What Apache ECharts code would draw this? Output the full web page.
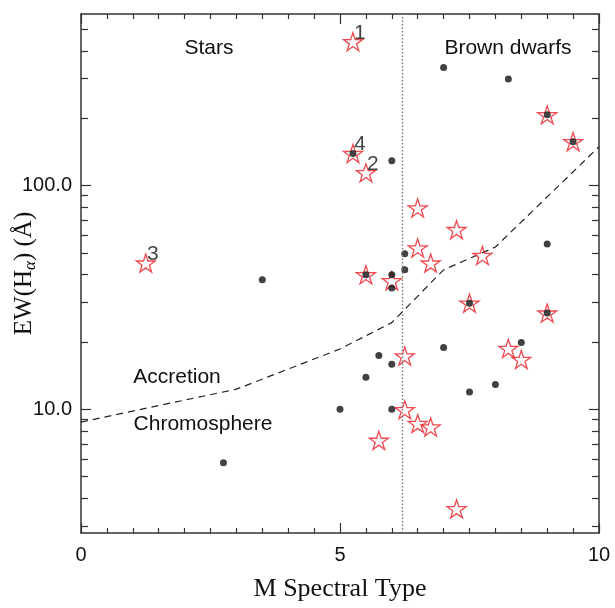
<!DOCTYPE html>
<html><head><meta charset="utf-8">
<script src="https://cdn.jsdelivr.net/npm/echarts@6/dist/echarts.min.js"></script>
<style>html,body{margin:0;padding:0;background:#fff}#c{width:615px;height:608px}</style>
</head><body><div id="c"></div>
<script>
// ---- data ----
const xTickLabels = [0, 5, 10];
const yMajorTicks = [10, 100];
const yMinorTicks = [3,4,5,6,7,8,9,20,30,40,50,60,70,80,90,200,300,400,500];
const starX = [5.25, 5.25, 5.5, 1.25, 9.0, 9.5, 6.5, 7.25, 6.5, 6.75, 7.75, 5.5, 6.0, 7.5, 9.0, 8.25, 8.5, 6.25, 6.25, 6.5, 6.75, 5.75, 7.25];
const starY = [439, 139, 114, 45.0, 207, 157, 79.4, 63.5, 52.6, 45.0, 48.7, 39.9, 37.5, 29.8, 26.9, 18.7, 16.7, 17.3, 9.95, 8.63, 8.33, 7.26, 3.59];
const starLabels = ['1', '4', '2', '3', '', '', '', '', '', '', '', '', '', '', '', '', '', '', '', '', '', '', ''];
const dotX = [5.25, 3.5, 7.0, 8.25, 9.0, 9.5, 6.0, 9.0, 6.25, 6.25, 5.5, 6.0, 6.0, 7.5, 9.0, 7.0, 8.5, 5.75, 6.0, 5.5, 8.0, 7.5, 5.0, 6.0, 2.75];
const dotY = [139, 37.9, 337, 299, 207, 157, 129, 54.8, 49.6, 42.0, 39.9, 39.9, 34.8, 29.8, 26.9, 18.9, 19.9, 17.4, 15.9, 13.9, 12.9, 11.96, 10.0, 10.0, 5.77];
const boundaryX = [0, 3, 5, 6, 7, 8, 10];
const boundaryY = [8.77, 12.3, 18.6, 24.4, 42.0, 53.1, 149];
const divideX = 6.2;
const regionTexts = ['Stars', 'Brown dwarfs', 'Accretion', 'Chromosphere'];

// ---- chart ----
const chart = echarts.init(document.getElementById('c'), null, {renderer: 'canvas'});
const AX = '#333';
const TXT = '#111';
const RED = '#ee1c24';
const yMin = 2.8, yMax = 584;
const starPath = 'path://M50,0 L61.23,34.55 L97.55,34.55 L68.17,55.9 L79.39,90.45 L50,69.1 L20.61,90.45 L31.83,55.9 L2.45,34.55 L38.77,34.55 Z';

function xAxisCfg(pos, labels) {
  return {
    type: 'value', position: pos, min: 0, max: 10, interval: 5,
    axisLine: {show: true, lineStyle: {color: AX, width: 1.5}},
    axisTick: {show: true, inside: true, length: 10, lineStyle: {color: AX, width: 1.2}},
    minorTick: {show: true, splitNumber: 10, length: 5, lineStyle: {color: AX, width: 1.2}},
    splitLine: {show: false},
    axisLabel: labels ? {show: true, fontFamily: 'Liberation Sans', fontSize: 20, color: TXT, margin: 12,
      customValues: xTickLabels, formatter: v => String(v)} : {show: false},
    name: labels ? 'M Spectral Type' : '',
    nameLocation: 'middle', nameGap: 43, nameMoveOverlap: false,
    nameTextStyle: {fontFamily: 'Liberation Serif', fontSize: 26, color: TXT}
  };
}
function yAxisCfg(pos, minor, labels) {
  const o = {
    type: 'log', logBase: 10, position: pos, min: yMin, max: yMax,
    axisLine: {show: !minor, lineStyle: {color: AX, width: 1.5}},
    axisTick: minor ? {show: true, inside: true, length: 7, customValues: yMinorTicks, lineStyle: {color: AX, width: 1.2}}
                    : {show: true, inside: true, length: 10, customValues: yMajorTicks, lineStyle: {color: AX, width: 1.2}},
    splitLine: {show: false},
    minorTick: {show: false},
    axisLabel: labels ? {show: true, fontFamily: 'Liberation Sans', fontSize: 20, color: TXT, margin: 9,
      customValues: yMajorTicks, formatter: v => Number(v).toFixed(1)} : {show: false}
  };
  if (labels) {
    o.name = '{a|EW(H}{s|α}{a|) (Å)}';
    o.nameLocation = 'middle';
    o.nameGap = 42;
    o.nameRotate = 90;
    o.nameMoveOverlap = false;
    o.nameTextStyle = {rich: {
      a: {fontFamily: 'Liberation Serif', fontSize: 25, color: TXT},
      s: {fontFamily: 'Liberation Serif', fontStyle: 'italic', fontSize: 17, color: TXT, padding: [12, 0, 0, 0]}
    }};
  }
  return o;
}

const option = {
  animation: false,
  backgroundColor: '#fff',
  grid: {left: 81, right: 16, top: 14, bottom: 75, containLabel: false, outerBoundsMode: 'none'},
  xAxis: [xAxisCfg('bottom', true), xAxisCfg('top', false)],
  yAxis: [yAxisCfg('left', false, true), yAxisCfg('left', true, false), yAxisCfg('right', false, false), yAxisCfg('right', true, false)],
  graphic: [
    {type: 'text', x: 209, y: 48, style: {text: regionTexts[0], font: '21px "Liberation Sans"', fill: TXT, align: 'center', verticalAlign: 'middle'}},
    {type: 'text', x: 508, y: 48, style: {text: regionTexts[1], font: '21px "Liberation Sans"', fill: TXT, align: 'center', verticalAlign: 'middle'}},
    {type: 'text', x: 177, y: 377, style: {text: regionTexts[2], font: '21px "Liberation Sans"', fill: TXT, align: 'center', verticalAlign: 'middle'}},
    {type: 'text', x: 203, y: 424, style: {text: regionTexts[3], font: '21px "Liberation Sans"', fill: TXT, align: 'center', verticalAlign: 'middle'}}
  ],
  series: [
    {
      type: 'line', xAxisIndex: 0, yAxisIndex: 0, showSymbol: false, symbol: 'none', silent: true,
      data: boundaryX.map((x, i) => [x, boundaryY[i]]),
      lineStyle: {color: '#222', width: 1.2, type: [7, 5]},
      markLine: {silent: true, symbol: 'none', label: {show: false},
        lineStyle: {color: '#777', width: 1.4, type: [1.5, 2]},
        data: [{xAxis: divideX}]}
    },
    {
      type: 'scatter', xAxisIndex: 0, yAxisIndex: 0, symbol: starPath, symbolSize: 19, symbolKeepAspect: true,
      itemStyle: {color: 'rgba(255,255,255,0)', borderColor: RED, borderWidth: 1.3},
      data: starX.map((x, i) => ({
        value: [x, starY[i]],
        label: starLabels[i] ? {show: true, formatter: starLabels[i], position: 'inside', offset: [7, -9],
          fontFamily: 'Liberation Sans', fontSize: 21, color: TXT} : {show: false}
      })),
      z: 3
    },
    {
      type: 'scatter', xAxisIndex: 0, yAxisIndex: 0, symbol: 'circle', symbolSize: 7,
      itemStyle: {color: '#111'},
      data: dotX.map((x, i) => [x, dotY[i]]),
      z: 4
    }
  ]
};
chart.setOption(option);
</script>
</body></html>
